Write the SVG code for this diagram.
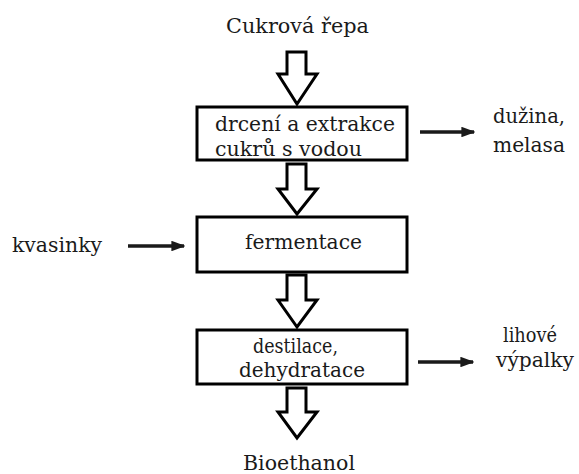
<svg xmlns="http://www.w3.org/2000/svg" width="579" height="474" viewBox="0 0 579 474">
<defs>
<style>
.t{font-family:"DejaVu Serif","Liberation Serif",serif;font-size:21px;fill:#1a1a1a}
.s{font-size:20px}
.box{fill:#fff;stroke:#000;stroke-width:3}
.blk{fill:#fff;stroke:#000;stroke-width:3;stroke-linejoin:miter}
.ln{stroke:#1a1a1a;stroke-width:3.5;fill:none}
</style>
<marker id="ah" markerWidth="4" markerHeight="3" refX="3.6" refY="1.5" orient="auto" markerUnits="strokeWidth">
<path d="M0,0 L4,1.5 L0,3 Z" fill="#1a1a1a"/>
</marker>
</defs>
<rect width="579" height="474" fill="#fff"/>
<g id="connectors">
<path class="blk" d="M287,52 H306 V74 H317 L297,104 L278,74 H287 Z"/>
<path class="blk" d="M287,164 H306 V189 H317 L297,214 L278,189 H287 Z"/>
<path class="blk" d="M287,275 H306 V300 H317 L297,327 L278,300 H287 Z"/>
<path class="blk" d="M287,388 H306 V412 H317 L297,438 L278,412 H287 Z"/>
<line class="ln" x1="128" y1="246" x2="184" y2="246" marker-end="url(#ah)"/>
<line class="ln" x1="420" y1="132" x2="474" y2="132" marker-end="url(#ah)"/>
<line class="ln" x1="418" y1="362" x2="473" y2="362" marker-end="url(#ah)"/>
</g>
<g id="n-input"><text class="t" x="226" y="33" textLength="143" lengthAdjust="spacingAndGlyphs">Cukrová řepa</text></g>
<g id="n-extrakce">
<rect class="box" x="197" y="107" width="210" height="53"/>
<text class="t" x="215" y="131" textLength="180" lengthAdjust="spacingAndGlyphs">drcení a extrakce</text>
<text class="t" x="215" y="156" textLength="147" lengthAdjust="spacingAndGlyphs">cukrů s vodou</text>
</g>
<g id="n-duzina">
<text class="t" x="493" y="123" textLength="72" lengthAdjust="spacingAndGlyphs">dužina,</text>
<text class="t" x="493" y="152" textLength="72" lengthAdjust="spacingAndGlyphs">melasa</text>
</g>
<g id="n-kvasinky"><text class="t" x="12" y="252" textLength="90" lengthAdjust="spacingAndGlyphs">kvasinky</text></g>
<g id="n-fermentace">
<rect class="box" x="197" y="217" width="210" height="55"/>
<text class="t" x="245" y="249" textLength="117" lengthAdjust="spacingAndGlyphs">fermentace</text>
</g>
<g id="n-destilace">
<rect class="box" x="197" y="330" width="210" height="54"/>
<text class="t" x="253" y="353" textLength="85" lengthAdjust="spacingAndGlyphs">destilace,</text>
<text class="t" x="239" y="377" textLength="126" lengthAdjust="spacingAndGlyphs">dehydratace</text>
</g>
<g id="n-vypalky">
<text class="t s" x="503" y="342" textLength="54" lengthAdjust="spacingAndGlyphs">lihové</text>
<text class="t s" x="496" y="367" textLength="78" lengthAdjust="spacingAndGlyphs">výpalky</text>
</g>
<g id="n-output"><text class="t" x="243" y="470" textLength="112" lengthAdjust="spacingAndGlyphs">Bioethanol</text></g>
</svg>
